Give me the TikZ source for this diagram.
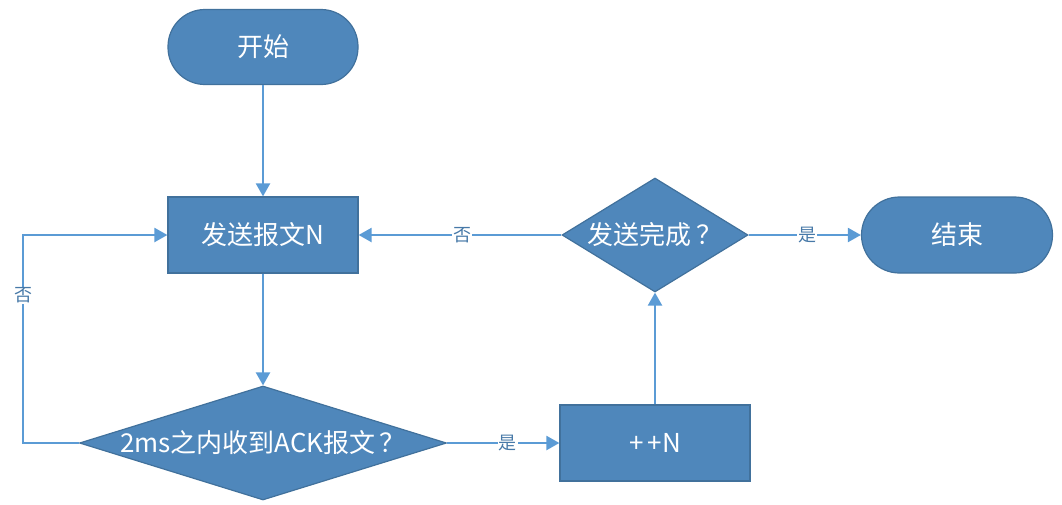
\documentclass[tikz,border=0pt]{standalone}
\usepackage{fontspec}
\setmainfont{Noto Sans CJK SC}
\usetikzlibrary{shapes.geometric,arrows.meta}
\definecolor{myFill}{RGB}{79,135,187}
\definecolor{myEdge}{RGB}{65,113,156}
\definecolor{myLine}{RGB}{91,155,213}
\tikzset{
  term/.style={draw=myEdge,line width=1.2pt,fill=myFill,rounded corners=37pt,minimum width=190pt,minimum height=75pt,text=white,font=\fontsize{26}{30}\selectfont},
  proc/.style={draw=myEdge,line width=1.2pt,fill=myFill,minimum width=190pt,minimum height=76pt,text=white,font=\fontsize{26}{30}\selectfont},
  decide/.style={diamond,draw=myEdge,line width=1.2pt,fill=myFill,inner sep=0pt},
  flow/.style={draw=myLine,line width=2.2pt,-{Triangle[length=13pt,width=14pt]}},
  tag/.style={fill=white,text=myFill!90!black,inner sep=1pt,font=\fontsize{18}{21}\selectfont}
}
\begin{document}
\begin{tikzpicture}[x=1pt,y=-1pt]
  \useasboundingbox (0,0) rectangle (1062,504);
  \node[term] (start) at (263,47) {开始};
  \node[proc] (send) at (263,235) {发送报文N};
  \node[decide,minimum width=367pt,minimum height=114pt,
        label={[text=white,font=\fontsize{26}{30}\selectfont]center:2ms之内收到ACK报文\,？}] (ack) at (263,443) {};
  \node[proc] (inc) at (655,443) {+\,+N};
  \node[decide,minimum width=186pt,minimum height=114pt,
        label={[text=white,font=\fontsize{26}{30}\selectfont]center:发送完成\,？}] (done) at (655,235) {};
  \node[term,minimum width=191pt,minimum height=76pt,rounded corners=38pt] (stop) at (957,235) {结束};
  \coordinate (c1) at (23,443);
  \coordinate (c2) at (23,235);

  \draw[flow] (start) -- (send);
  \draw[flow] (send) -- (ack);
  \draw[flow] (ack.east) -- node[tag,pos=0.54] (yes1) {是} (inc.west);
  \draw[flow] (inc) -- (done);
  \draw[flow] (done.west) -- node[tag,pos=0.49] (no2) {否} (send.east);
  \draw[flow] (done.east) -- node[tag,pos=0.52] (yes2) {是} (stop.west);
  \draw[flow] (ack.west) -- (c1) -- node[tag,pos=0.71] (no1) {否} (c2) -- (send.west);
\end{tikzpicture}
\end{document}
